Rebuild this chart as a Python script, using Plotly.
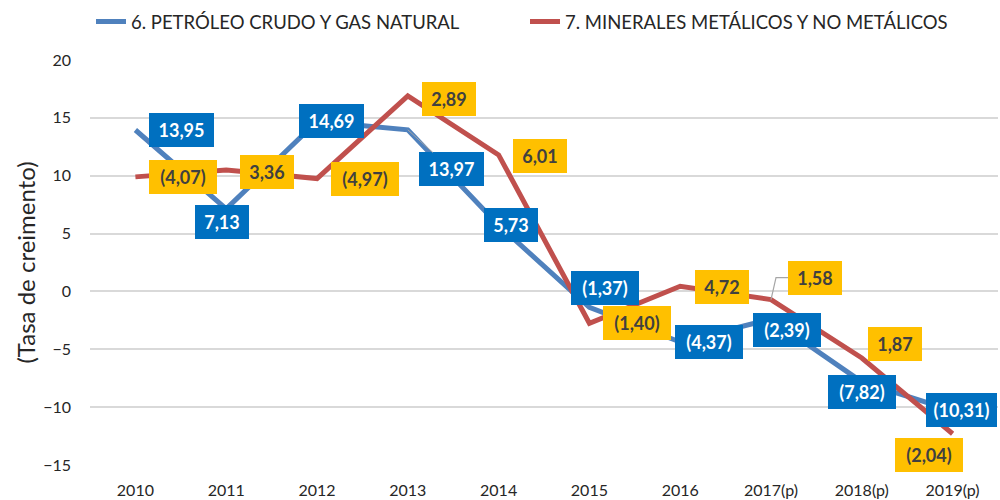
import plotly.graph_objects as go

years = ["2010", "2011", "2012", "2013", "2014", "2015", "2016", "2017(p)", "2018(p)", "2019(p)"]

petroleo_name = "6. PETRÓLEO CRUDO Y GAS NATURAL"
petroleo_values = [13.95, 7.13, 14.69, 13.97, 5.73, -1.37, -4.37, -2.39, -7.82, -10.31]
petroleo_labels = ["13,95", "7,13", "14,69", "13,97", "5,73", "(1,37)", "(4,37)", "(2,39)", "(7,82)", "(10,31)"]

minerales_name = "7. MINERALES METÁLICOS Y NO METÁLICOS"
minerales_values = [9.9, 10.5, 9.75, 16.9, 11.8, -2.75, 0.45, -0.7, -5.75, -12.3]
minerales_labels = ["(4,07)", "3,36", "(4,97)", "2,89", "6,01", "(1,40)", "4,72", "1,58", "1,87", "(2,04)"]

y_ticks = [-15, -10, -5, 0, 5, 10, 15, 20]

# label box offsets in pixels (dx right, dy down); leader: None, "straight" or an elbow path
blue_offsets = [(46.5, 0), (-4, 13), (14.7, -0.6), (43.8, 39.7), (12.4, 0), (15.5, -19.4),
                (28.6, 0), (15.7, 10.8), (0, 9.8), (8.4, -1)]
blue_leader = [None, None, None, "straight", None, None, None, None, None, None]
yellow_offsets = [(48, 0), (40.6, 2), (48.2, 0.5), (41.3, 3), (41.4, 1), (47.5, 0),
                  (41.6, 0.5), (43.7, -22), (32.8, -14), (-24, 21)]
yellow_leader = [None, None, None, None, None, None, None, "M0,0 L5,22 L17,22", None, None]

BLUE_LINE = "#4F81BD"
RED_LINE = "#C0504D"
BLUE_BOX = "#0070C0"
YELLOW_BOX = "#FFC000"
LEADER = "#A6A6A6"
FONT = "Lato"

pos = list(range(len(years)))

fig = go.Figure()
fig.add_trace(go.Scatter(x=pos, y=petroleo_values, mode="lines", name=petroleo_name,
                         line=dict(color=BLUE_LINE, width=5), hoverinfo="skip"))
fig.add_trace(go.Scatter(x=pos, y=minerales_values, mode="lines", name=minerales_name,
                         line=dict(color=RED_LINE, width=5), hoverinfo="skip"))


def box_width(t):
    return {4: 54, 5: 65, 6: 68, 7: 71}.get(len(t), 10 * len(t))


def add_labels(values, labels, offsets, leaders, bg, fg):
    for x, v, t, (dx, dy), lead in zip(pos, values, labels, offsets, leaders):
        common = dict(x=x, y=v, xref="x", yref="y", text="<b>%s</b>" % t,
                      font=dict(family=FONT, size=18, color=fg),
                      bgcolor=bg, borderpad=0, borderwidth=0,
                      width=box_width(t), height=34, align="center", valign="middle")
        if lead == "straight":
            fig.add_annotation(**common, showarrow=True, ax=dx, ay=dy, axref="pixel", ayref="pixel",
                               arrowhead=0, arrowwidth=1, arrowcolor=LEADER, standoff=0)
        else:
            if lead:
                fig.add_shape(type="path", xref="x", yref="y", xsizemode="pixel", ysizemode="pixel",
                              xanchor=x, yanchor=v, path=lead, line=dict(color=LEADER, width=1.2),
                              layer="above")
            fig.add_annotation(**common, showarrow=False, xshift=dx, yshift=-dy)


add_labels(petroleo_values, petroleo_labels, blue_offsets, blue_leader, BLUE_BOX, "#FFFFFF")
add_labels(minerales_values, minerales_labels, yellow_offsets, yellow_leader, YELLOW_BOX, "#404040")

fig.update_layout(
    width=1000, height=500,
    margin=dict(l=90, r=2, t=60, b=35),
    paper_bgcolor="white", plot_bgcolor="white",
    font=dict(family=FONT, color="#404040"),
    showlegend=True,
    legend=dict(orientation="h", xref="container", yref="container", x=0.091, y=0.956,
                xanchor="left", yanchor="middle", font=dict(family=FONT, size=18.5, color="#262626"),
                entrywidth=389, entrywidthmode="pixels", bgcolor="rgba(0,0,0,0)"),
    xaxis=dict(range=[-0.5, len(years) - 0.5], tickvals=pos, ticktext=years,
               showgrid=False, showline=False, zeroline=False, ticks="",
               tickfont=dict(family=FONT, size=16, color="#262626"), ticklabelstandoff=14,
               automargin=False, fixedrange=True),
    yaxis=dict(range=[-15, 20], tickvals=y_ticks, showgrid=True, gridcolor="#D9D9D9", gridwidth=1.5,
               zeroline=False, showline=False, ticks="",
               tickfont=dict(family=FONT, size=16, color="#262626"), ticklabelstandoff=18,
               title=dict(text="(Tasa de creimento)", font=dict(family=FONT, size=24, color="#262626"),
                          standoff=0),
               automargin=False, fixedrange=True),
)

fig.write_html("out.html", config={"displayModeBar": False},
               post_script="document.body.style.margin='0';")
